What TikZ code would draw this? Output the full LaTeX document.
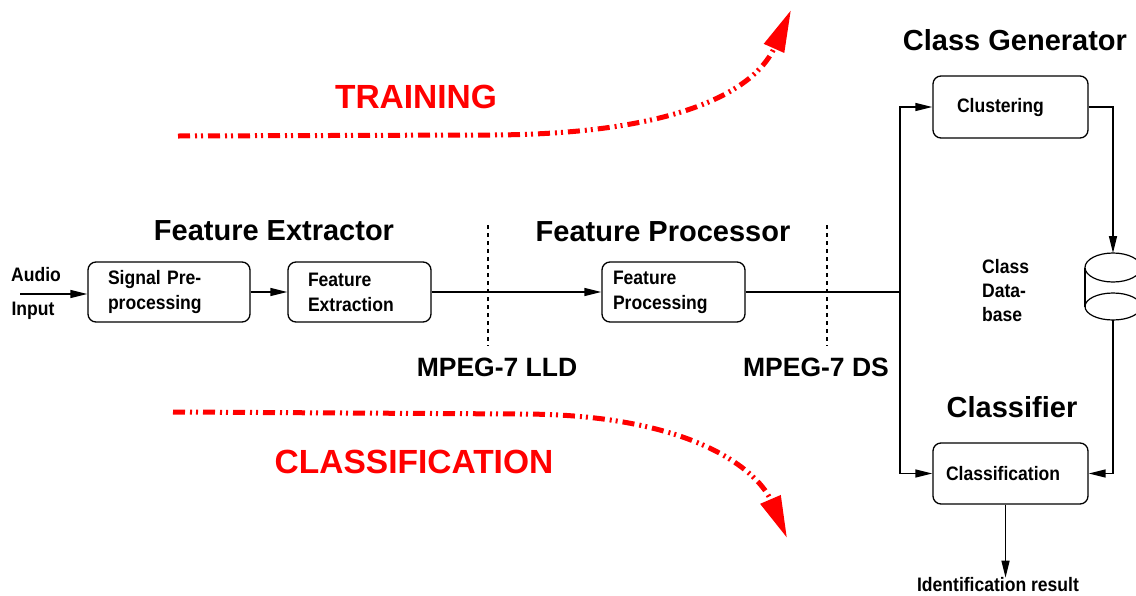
\documentclass[tikz,border=0pt]{standalone}
\usepackage{fontspec}
\setmainfont{Liberation Sans}
\newfontfamily\nrw{Liberation Sans}[FakeStretch=0.9]
\usetikzlibrary{arrows.meta}
\begin{document}
\begin{tikzpicture}[x=1pt,y=-1pt,
  blk/.style={line width=1.4pt, -{Triangle[length=17pt,width=8pt]}},
  ln/.style={line width=1.4pt},
  box/.style={draw, line width=1.3pt, rounded corners=8pt, minimum height=60pt, inner ysep=2pt, align=left,
    font=\nrw\bfseries\fontsize{19.5}{25}\selectfont},
  ttl/.style={font=\bfseries\fontsize{29}{34}\selectfont, inner sep=0pt},
  mpg/.style={font=\bfseries\fontsize{26.5}{30}\selectfont, inner sep=0pt},
  lbl/.style={font=\nrw\bfseries\fontsize{19.5}{24}\selectfont, align=left, inner sep=0pt},
  redarr/.style={red, line width=5pt, dash pattern=on 12pt off 5pt on 2pt off 4pt on 2pt off 5pt,
    -{Triangle[length=42pt,width=21pt]}},
  redtxt/.style={red, font=\bfseries\fontsize{33.5}{40}\selectfont, inner sep=0pt},
  sepl/.style={line width=2.4pt, dash pattern=on 4pt off 4pt},
]
\useasboundingbox (0,0) rectangle (1136,595);

% titles
\node[ttl] (tfe) at (274,231) {Feature Extractor};
\node[ttl] (tfp) at (663,232) {Feature Processor};
\node[ttl] (tcg) at (1015,40) {Class Generator};
\node[ttl] (tcf) at (1012,407) {Classifier};
\node[mpg] (lld) at (497,367) {MPEG-7 LLD};
\node[mpg] (ds) at (816,367) {MPEG-7 DS};

% boxes
\node[box, text width=122pt, inner xsep=20pt] (sig) at (169,292) {Signal Pre-\\processing};
\node[box, text width=103pt, inner xsep=20pt] (fex) at (359.5,292) {Feature\\Extraction};
\node[box, text width=121pt, inner xsep=11pt] (fpr) at (673.5,292) {Feature\\Processing};
\node[box, text width=107pt, inner xsep=24pt, minimum height=62pt] (clu) at (1010.5,107) {Clustering};
\node[box, text width=129pt, inner xsep=13pt, minimum height=61pt] (cls) at (1010.5,473.5) {Classification};

% labels
\node[lbl] (aud) at (36,275) {Audio};
\node[lbl] (inp) at (33,311) {Input};
\node[lbl, anchor=west] (cdb) at (982,291) {Class\\Data-\\base};
\node[lbl] (res) at (998,585) {Identification result};

% database cylinder
\coordinate (dbtop) at (1113,253);
\coordinate (dbbot) at (1113,320);
\draw[ln, line width=1.2pt] (1113,267.5) ellipse [x radius=28, y radius=14.5];
\draw[ln, line width=1.2pt] (1113,306.5) ellipse [x radius=28, y radius=13.5];
\draw[ln, line width=1.2pt] (1085,267.5) -- (1085,306.5);
\draw[ln, line width=1.2pt] (1141,267.5) -- (1141,306.5);

% separators
\coordinate (s1a) at (488,225); \coordinate (s1b) at (488,346);
\coordinate (s2a) at (827,225); \coordinate (s2b) at (827,346);
\draw[sepl] (s1a) -- (s1b);
\draw[sepl] (s2a) -- (s2b);

% connectors
\coordinate (ain) at (20,294);
\draw[blk] (ain) -- (ain -| sig.west);
\draw[blk] (sig.east) -- (fex.west);
\draw[blk] (fex.east) -- (fpr.west);
\coordinate (split) at (900,292);
\draw[ln] (fpr.east) -- (split);
\draw[blk] (split) |- (clu.west);
\draw[blk] (split) |- (cls.west);
\draw[blk] (clu.east) -| (dbtop);
\draw[blk] (dbbot) |- (cls.east);
\draw[blk] ([xshift=-5pt]cls.south) -- ([xshift=-5pt]cls.south |- res.north);

% red flows
\node[redtxt] (tr) at (416,97) {TRAINING};
\node[redtxt] (cl) at (414,462) {CLASSIFICATION};
\coordinate (t0) at (178,136);
\coordinate (t1) at (480,135);
\coordinate (t2) at (791,10);
\draw[redarr] (t0) -- (t1) .. controls (700,136) and (760,80) .. (t2);
\coordinate (b0) at (173,412);
\coordinate (b1) at (520,414);
\coordinate (b2) at (787,538);
\draw[redarr] (b0) -- (b1) .. controls (700,414) and (760,475) .. (b2);
\end{tikzpicture}
\end{document}
